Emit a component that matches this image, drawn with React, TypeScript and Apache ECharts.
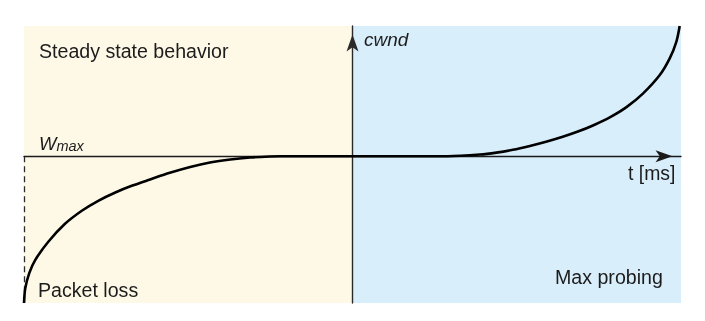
import React, { useEffect, useRef } from "react";
import * as echarts from "echarts";

// time (arbitrary units, 0 = inflection / cwnd axis) and cwnd relative to Wmax
const T = [-50, -49.8, -49.2, -48.3, -46.3, -43.8, -41.2, -38.7, -36.1, -33.6, -30.8, -27.8, -24.7, -21.7, -18.6, -15.6, -12.6, -11, 0, 14.5, 19.4, 21.9, 24.4, 27.0, 29.6, 32.0, 34.1, 36.6, 39.3, 41.7, 44.2, 46.8, 48.3, 49.3, 49.8];
const CWND = [-53, -47.6, -42.2, -37.5, -30.9, -24.5, -19.7, -16.1, -13.1, -10.7, -8.4, -6.0, -3.9, -2.3, -1.2, -0.5, -0.1, 0, 0, 0, 0.6, 1.3, 2.3, 3.7, 5.3, 7.0, 8.7, 11.1, 14.2, 17.7, 22.6, 29.4, 35.4, 41.4, 47.0];

const T_RANGE = [-50, 50];
const CWND_RANGE = [-53, 47];
const LOSS_T = -50;

const REGION_LABELS = ["Steady state behavior", "Packet loss", "Max probing"];
const X_NAME = "t [ms]";
const Y_NAME = "cwnd";

export default function App() {
  const ref = useRef<HTMLDivElement>(null);
  useEffect(() => {
    if (!ref.current) return;
    const chart = echarts.init(ref.current, null, { renderer: "svg" });
    const font = "'Liberation Sans', Arial, Helvetica, sans-serif";
    const ink = "#1c1c1c";
    const data = T.map((t, i) => [t, CWND[i]]);
    chart.setOption({
      animation: false,
      grid: { left: 24, right: 24, top: 26, bottom: 18 },
      xAxis: {
        type: "value",
        min: T_RANGE[0],
        max: T_RANGE[1],
        z: 5,
        axisLine: {
          onZero: true,
          symbol: ["none", "arrow"],
          symbolSize: [9, 17],
          symbolOffset: [0, -8.5],
          lineStyle: { color: "#1a1a1a", width: 1.4 },
        },
        axisTick: { show: false },
        axisLabel: { show: false },
        splitLine: { show: false },
      },
      yAxis: {
        type: "value",
        min: CWND_RANGE[0],
        max: CWND_RANGE[1],
        z: 5,
        axisLine: {
          onZero: true,
          symbol: ["none", "arrow"],
          symbolSize: [9, 17],
          symbolOffset: [0, -8.5],
          lineStyle: { color: "#2a2a2a", width: 1.4 },
        },
        axisTick: { show: false },
        axisLabel: { show: false },
        splitLine: { show: false },
      },
      series: [
        {
          type: "line",
          z: 1,
          data: [],
          silent: true,
          markArea: {
            silent: true,
            data: [
              [{ xAxis: T_RANGE[0], itemStyle: { color: "#fef9e7" } }, { xAxis: 0 }],
              [{ xAxis: 0, itemStyle: { color: "#d9eefb" } }, { xAxis: T_RANGE[1] }],
            ],
          },
          markLine: {
            silent: true,
            symbol: ["none", "none"],
            label: { show: false },
            lineStyle: { color: "#2a2a2a", width: 1.3, type: [6, 4] },
            data: [[{ coord: [LOSS_T, 0] }, { coord: [LOSS_T, CWND_RANGE[0]] }]],
          },
        },
        {
          type: "line",
          z: 10,
          data,
          showSymbol: false,
          smooth: 0.3,
          lineStyle: { color: "#000", width: 2.6 },
          silent: true,
        },
      ],
      graphic: [
        { type: "text", z: 100, x: 39, y: 50.5, style: { text: REGION_LABELS[0], fontSize: 19.6, fontFamily: font, fill: ink, verticalAlign: "middle" } },
        { type: "text", z: 100, x: 38, y: 290, style: { text: REGION_LABELS[1], fontSize: 19.6, fontFamily: font, fill: ink, verticalAlign: "middle" } },
        { type: "text", z: 100, x: 555, y: 277, style: { text: REGION_LABELS[2], fontSize: 19.6, fontFamily: font, fill: ink, verticalAlign: "middle" } },
        { type: "text", z: 100, x: 628, y: 172.5, style: { text: X_NAME, fontSize: 19.4, fontFamily: font, fill: ink, verticalAlign: "middle" } },
        { type: "text", z: 100, x: 364, y: 39, style: { text: Y_NAME, fontSize: 19, fontStyle: "italic", fontFamily: font, fill: ink, verticalAlign: "middle" } },
        {
          type: "text",
          z: 100,
          x: 39,
          y: 143.7,
          style: {
            text: "{w|W}{m|max}",
            fontFamily: font,
            fill: ink,
            verticalAlign: "middle",
            rich: {
              w: { fontSize: 18.5, fontStyle: "italic", fontFamily: font, fill: ink, verticalAlign: "bottom" },
              m: { fontSize: 14.5, fontStyle: "italic", fontFamily: font, fill: ink, verticalAlign: "bottom" },
            },
          },
        },
      ],
    });
    return () => chart.dispose();
  }, []);
  return <div ref={ref} style={{ position: "fixed", left: 0, top: 0, width: 705, height: 321 }} />;
}
